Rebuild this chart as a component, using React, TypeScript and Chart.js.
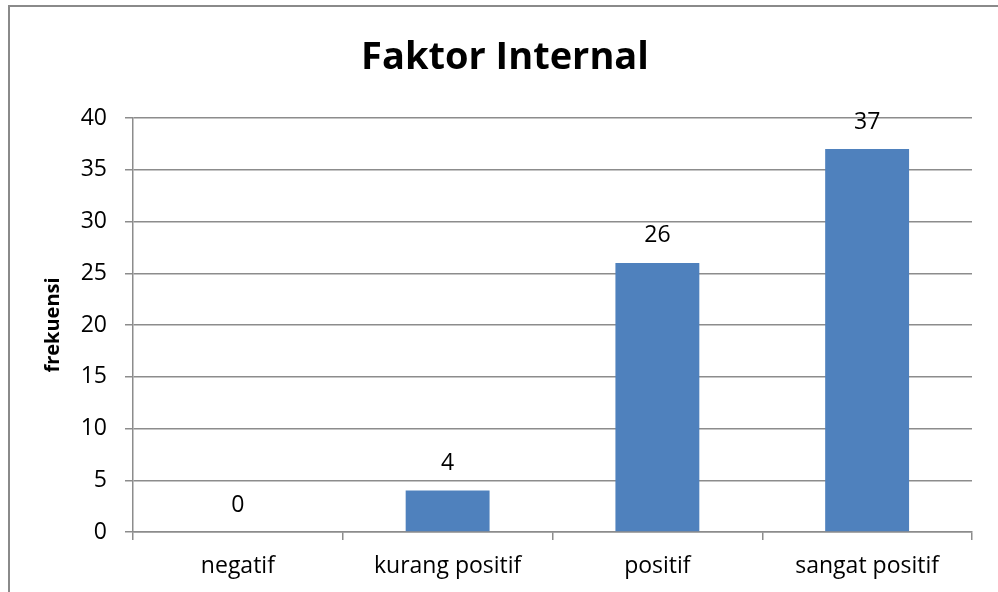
import React, { useEffect, useRef } from "react";
import { Chart, registerables } from "chart.js";

Chart.register(...registerables);

const categories = ["negatif", "kurang positif", "positif", "sangat positif"];
const frekuensi = [0, 4, 26, 37];
const chartTitle = "Faktor Internal";
const yAxisTitle = "frekuensi";

const FONT = "'Open Sans', sans-serif";
const GRID = "#8c8c8c";

const valueLabels = {
  id: "valueLabels",
  afterDatasetsDraw(chart: any) {
    const ctx = chart.ctx;
    ctx.save();
    ctx.font = `23px ${FONT}`;
    ctx.fillStyle = "#000";
    ctx.textAlign = "center";
    ctx.textBaseline = "middle";
    chart.data.datasets.forEach((ds: any, i: number) => {
      const meta = chart.getDatasetMeta(i);
      meta.data.forEach((bar: any, j: number) => {
        ctx.fillText(String(ds.data[j]), bar.x, bar.y - 27);
      });
    });
    ctx.restore();
  },
};

const titlePlugin = {
  id: "customTitle",
  afterDraw(chart: any) {
    const ctx = chart.ctx;
    ctx.save();
    ctx.font = `bold 38px ${FONT}`;
    ctx.fillStyle = "#000";
    ctx.textAlign = "center";
    ctx.textBaseline = "middle";
    ctx.fillText(chartTitle, 505, 58);
    ctx.restore();
  },
};

export default function App() {
  const ref = useRef<HTMLCanvasElement>(null);
  useEffect(() => {
    if (!ref.current) return;
    const chart = new Chart(ref.current, {
      type: "bar",
      data: {
        labels: categories,
        datasets: [
          {
            data: frekuensi,
            backgroundColor: "#4F81BD",
            borderWidth: 0,
            barPercentage: 0.4,
            categoryPercentage: 1,
          },
        ],
      },
      options: {
        responsive: false,
        animation: false,
        layout: { padding: { top: 118, right: 26, left: 0, bottom: 0 } },
        plugins: {
          legend: { display: false },
          tooltip: { enabled: false },
          title: { display: false },
        },
        scales: {
          x: {
            grid: {
              drawOnChartArea: false,
              drawTicks: true,
              tickLength: 8,
              color: GRID,
              lineWidth: 1.5,
              offset: true,
            },
            border: { display: true, color: GRID, width: 1.5 },
            ticks: { color: "#000", font: { family: FONT, size: 23 }, padding: 13, maxRotation: 0 },
            afterFit: (s: any) => {
              s.height = 60;
            },
          },
          y: {
            min: 0,
            max: 40,
            ticks: { stepSize: 5, color: "#000", font: { family: FONT, size: 23 }, padding: 18 },
            grid: { color: GRID, lineWidth: 1.5, tickLength: 8, drawTicks: true },
            border: { display: true, color: GRID, width: 1.5 },
            title: {
              display: true,
              text: yAxisTitle,
              color: "#000",
              font: { family: FONT, size: 20, weight: "bold", lineHeight: 1.2 },
              padding: { top: 41, bottom: 0 },
            },
            afterFit: (s: any) => {
              s.width = 133;
            },
          },
        },
      },
      plugins: [valueLabels, titlePlugin],
    });
    return () => chart.destroy();
  }, []);

  return (
    <div style={{ position: "fixed", left: 0, top: 0, width: 998, height: 592, background: "#fff", overflow: "hidden" }}>
      <div
        style={{
          position: "absolute",
          left: 8,
          top: 5,
          width: 1010,
          height: 610,
          border: "2px solid #8a8a8a",
          boxSizing: "border-box",
        }}
      />
      <canvas ref={ref} width={998} height={592} style={{ position: "absolute", left: 0, top: 0 }} />
    </div>
  );
}
